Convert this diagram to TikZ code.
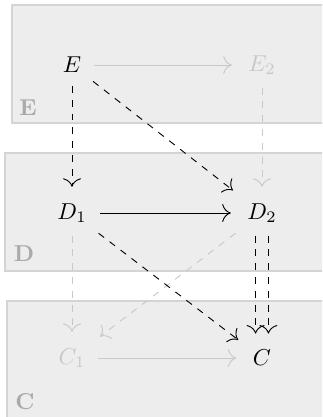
\documentclass[tikz,border=0pt]{standalone}
\usetikzlibrary{arrows.meta}
\definecolor{boxfill}{HTML}{EDEDED}
\definecolor{boxline}{HTML}{D4D4D4}
\definecolor{faint}{HTML}{C8C8C8}
\definecolor{lbl}{HTML}{AAAAAA}
\tikzset{
  region/.style={draw=boxline, fill=boxfill, line width=0.5pt},
  obj/.style={inner sep=3pt},
  ghost/.style={inner sep=3pt, text=faint},
  regionlabel/.style={text=lbl, font=\bfseries},
  arrbase/.style={-{To[scale=1.5]}, shorten <=2.5pt, shorten >=4pt},
  mainarr/.style={arrbase, black},
  dasharr/.style={arrbase, dashed, black},
  ghostarr/.style={arrbase, faint},
  ghostdash/.style={arrbase, dashed, faint}
}
\begin{document}
\begin{tikzpicture}[x=0.4348pt, y=-0.4348pt]
\useasboundingbox (0,0) rectangle (322,417);
\clip (0,0) rectangle (322,417);
\fill[white] (0,0) rectangle (322,417);
% regions
\draw[region] (12,5) rectangle (345,123);
\draw[region] (5,153) rectangle (345,271);
\draw[region] (7,301) rectangle (345,430);
\node[regionlabel] (lE) at (28,108) {E};
\node[regionlabel] (lD) at (24,254) {D};
\node[regionlabel] (lC) at (25,402) {C};
% objects
\node[obj] (E) at (72,65) {$E$};
\node[ghost] (E2) at (262,65) {$E_2$};
\node[obj] (D1) at (72,213) {$D_1$};
\node[obj] (D2) at (262,213) {$D_2$};
\node[ghost] (C1) at (72,358) {$C_1$};
\node[obj] (C) at (262,358) {$C$};
% arrows
\draw[ghostarr] (E) -- (E2);
\draw[ghostarr] (C1) -- (C);
\draw[mainarr] (D1) -- (D2);
\draw[dasharr] (E) -- (D1);
\draw[dasharr] (E) -- (D2);
\draw[ghostdash] (E2) -- (D2);
\draw[ghostdash] (D1) -- (C1);
\draw[ghostdash] (D2) -- (C1);
\draw[dasharr] (D1) -- (C);
\draw[dasharr] ([xshift=-2.8pt]D2.south) -- ([xshift=-2.8pt]C.north);
\draw[dasharr] ([xshift=2.8pt]D2.south) -- ([xshift=2.8pt]C.north);
\end{tikzpicture}
\end{document}
